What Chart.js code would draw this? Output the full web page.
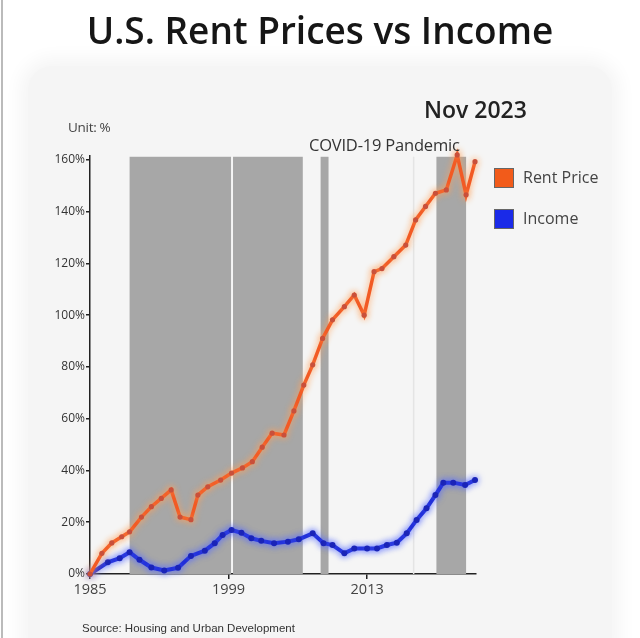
<!DOCTYPE html>
<html>
<head>
<meta charset="utf-8">
<script src="https://cdn.jsdelivr.net/npm/chart.js@4.4.1/dist/chart.umd.min.js"></script>
<style>
  html, body { margin: 0; padding: 0; background: #fff; }
  #page { position: relative; width: 640px; height: 638px; overflow: hidden; font-family: "Open Sans", sans-serif; color: #222; }
  #panel { position: absolute; left: 28px; top: 66px; width: 584px; height: 600px; background: #f5f5f5; border-radius: 24px; box-shadow: 0 0 18px 8px #f5f5f5; }
  #edge { position: absolute; left: 1px; top: 0; width: 2px; height: 638px; background: #bbb; }
  #chart { position: absolute; left: 0; top: 0; }
  .txt { position: absolute; white-space: nowrap; }
  #title { left: 0; width: 640px; text-align: center; top: 4px; font-size: 37px; font-weight: 600; color: #161616; }
  #date { left: 424px; top: 93px; font-size: 23px; font-weight: 600; color: #222; }
  #unit { left: 68px; top: 118px; font-size: 13.5px; color: #444; letter-spacing: -0.3px; }
  #covid { left: 309px; top: 133px; font-size: 16.5px; color: #333; letter-spacing: -0.2px; }
  #source { left: 82px; top: 622px; font-family: "Liberation Sans", Arial, sans-serif; font-size: 11.5px; color: #333; }
  .key { position: absolute; left: 494px; width: 18px; height: 18px; border: 1px solid #666; }
  .keytxt { left: 523px; font-size: 16px; color: #444; }
</style>
</head>
<body>
<div id="page">
  <div id="panel"></div>
  <div id="edge"></div>
  <canvas id="chart" width="640" height="638"></canvas>
  <div class="txt" id="title">U.S. Rent Prices vs Income</div>
  <div class="txt" id="date">Nov 2023</div>
  <div class="txt" id="unit">Unit: %</div>
  <div class="txt" id="covid">COVID-19 Pandemic</div>
  <div class="key" style="top:168px;background:#f25b1a"></div>
  <div class="txt keytxt" style="top:166px">Rent Price</div>
  <div class="key" style="top:209px;background:#1a2ae8"></div>
  <div class="txt keytxt" style="top:207px">Income</div>
  <div class="txt" id="source">Source: Housing and Urban Development</div>
</div>
<script>
// cumulative change since 1985, %
const rentYears = [1985, 1986.2, 1987.2, 1988.2, 1989, 1990.2, 1991.2, 1992.2, 1993.2, 1994.1,
  1995.2, 1995.9, 1996.9, 1998.2, 1999.3, 2000.4, 2001.4, 2002.4, 2003.4, 2004.6,
  2005.6, 2006.6, 2007.5, 2008.5, 2009.5, 2010.7, 2011.7, 2012.7, 2013.7, 2014.5,
  2015.7, 2016.9, 2017.9, 2018.9, 2019.9, 2021, 2022.1, 2023, 2023.9];
const rentValues = [0, 8, 12, 14.4, 16.3, 22, 26, 29.2, 32.5, 22,
  21, 30.5, 33.7, 36.3, 39, 41, 43.4, 49, 54.4, 53.7,
  63, 73, 80.8, 91, 98.2, 103.3, 107.8, 100, 116.8, 118,
  122.6, 127.1, 136.8, 142, 147.1, 148.4, 161.9, 146.5, 159.3];

const incomeYears = [1985, 1986.8, 1988, 1989, 1990, 1991.2, 1992.5, 1993.9, 1995.2, 1996.6,
  1997.6, 1998.4, 1999.3, 2000.3, 2001.3, 2002.3, 2003.6, 2005, 2006.1, 2007.5,
  2008.6, 2009.5, 2010.7, 2011.7, 2013, 2014, 2015, 2016, 2017, 2018,
  2019, 2019.9, 2020.7, 2021.7, 2022.9, 2023.9];
const incomeValues = [0, 4.5, 6.1, 8.4, 5.5, 2.5, 1.4, 2.4, 7, 9,
  11.9, 15.1, 17, 15.9, 13.8, 12.8, 11.9, 12.5, 13.4, 15.7,
  11.9, 11.2, 8, 9.9, 9.9, 9.9, 11.2, 12.1, 15.7, 20.9,
  25.4, 30.5, 35.3, 35.3, 34.4, 36.3];

// shaded periods (years)
const bandStarts = [1989.0, 1999.45, 2008.3, 2020.0];
const bandEnds = [1999.25, 2006.5, 2009.1, 2023.0];
const bandTop = 161.2;
const markerYears = [2017.7];

const xTickYears = [1985, 1999, 2013];
const yTickValues = [0, 20, 40, 60, 80, 100, 120, 140, 160];

const toPoints = (xs, ys) => xs.map((x, i) => ({ x, y: ys[i] }));

const bandsPlugin = {
  id: "bands",
  beforeDatasetsDraw(chart) {
    const { ctx, scales: { x, y } } = chart;
    ctx.save();
    ctx.fillStyle = "#a7a7a7";
    bandStarts.forEach((s, i) => {
      const x0 = x.getPixelForValue(s);
      const x1 = x.getPixelForValue(bandEnds[i]);
      const top = y.getPixelForValue(bandTop);
      ctx.fillRect(x0, top, x1 - x0, y.getPixelForValue(0) - top);
    });
    ctx.strokeStyle = "#e4e4e4";
    ctx.lineWidth = 1.5;
    markerYears.forEach((m) => {
      const px = x.getPixelForValue(m);
      ctx.beginPath();
      ctx.moveTo(px, y.getPixelForValue(bandTop));
      ctx.lineTo(px, y.getPixelForValue(0));
      ctx.stroke();
    });
    ctx.restore();
  },
};

const glowPlugin = {
  id: "glow",
  beforeDatasetDraw(chart, args) {
    const ds = chart.data.datasets[args.index];
    chart.ctx.save();
    chart.ctx.shadowColor = ds.glow;
    chart.ctx.shadowBlur = 7;
  },
  afterDatasetDraw(chart) {
    chart.ctx.restore();
  },
};

new Chart(document.getElementById("chart"), {
  type: "line",
  data: {
    datasets: [
      {
        label: "Rent Price",
        data: toPoints(rentYears, rentValues),
        borderColor: "#f25a24",
        glow: "rgba(255,160,90,1)",
        borderWidth: 3.5,
        pointRadius: 2.6,
        pointBackgroundColor: "#c9503a",
        pointBorderWidth: 0,
        tension: 0,
        clip: false,
      },
      {
        label: "Income",
        data: toPoints(incomeYears, incomeValues),
        borderColor: "#1d2bd8",
        glow: "rgba(90,110,255,1)",
        borderWidth: 4,
        pointRadius: 3,
        pointBackgroundColor: "#1a24b8",
        pointBorderWidth: 0,
        tension: 0,
        clip: false,
      },
    ],
  },
  options: {
    responsive: false,
    animation: false,
    layout: { padding: { top: 156, right: 164, left: 0, bottom: 0 } },
    plugins: { legend: { display: false }, tooltip: { enabled: false } },
    scales: {
      x: {
        type: "linear",
        min: 1985,
        max: 2024,
        afterBuildTicks: (s) => { s.ticks = xTickYears.map((v) => ({ value: v })); },
        afterFit: (s) => { s.height = 64; },
        border: { display: true, color: "#222", width: 1.5 },
        grid: { drawOnChartArea: false, color: "#222", tickLength: 5, lineWidth: 1.5 },
        ticks: {
          color: "#444",
          font: { family: "Open Sans", size: 14.5 },
          padding: 2,
          maxRotation: 0,
          callback: (v) => String(v),
        },
      },
      y: {
        min: 0,
        max: 161.5,
        afterBuildTicks: (s) => { s.ticks = yTickValues.map((v) => ({ value: v })); },
        afterFit: (s) => { s.width = 90; },
        border: { display: true, color: "#222", width: 1.5 },
        grid: { drawOnChartArea: false, color: "#222", tickLength: 4, lineWidth: 1.5 },
        ticks: {
          color: "#333",
          font: { family: "Open Sans", size: 12 },
          padding: 1,
          callback: (v) => v + "%",
        },
      },
    },
  },
  plugins: [bandsPlugin, glowPlugin],
});
</script>
</body>
</html>
